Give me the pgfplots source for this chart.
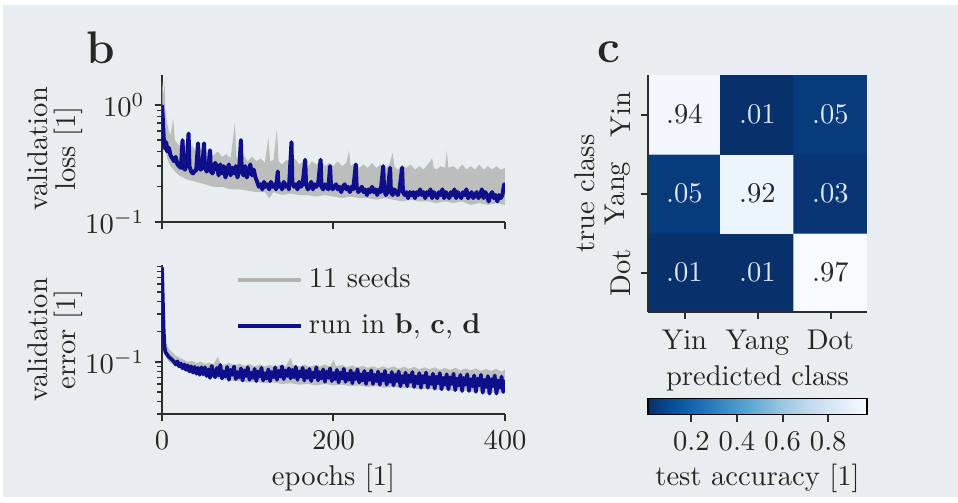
\documentclass[border=0pt]{standalone}
\usepackage{pgfplots}
\pgfplotsset{compat=1.18}
\definecolor{bgc}{RGB}{232,238,240}
\definecolor{runblue}{RGB}{15,15,140}
\definecolor{seedgray}{RGB}{178,178,178}
\definecolor{axc}{RGB}{45,45,45}
\definecolor{lighttxt}{RGB}{222,230,244}
\pgfplotsset{
 panel/.style={scale only axis, axis x line*=bottom, axis y line*=left, tick align=outside,
   axis line style={axc, line width=0.7pt}, major tick length=2.6pt, minor tick length=1.6pt,
   every tick/.style={axc, line width=0.7pt}, every minor tick/.style={axc, line width=0.5pt},
   tick label style={text=black!85}, label style={text=black!85}},
}
\begin{document}
\begin{tikzpicture}
\fill[white] (0pt,0pt) rectangle (335.3pt,-173.95pt);
\fill[bgc] (1.05pt,-1.75pt) rectangle (335.3pt,-173.95pt);
\node[anchor=base west, font=\fontsize{16}{19}\selectfont\bfseries, text=black!85, inner sep=0pt] at (30.1pt,-22.05pt) {b};
\node[anchor=base west, font=\fontsize{16}{19}\selectfont\bfseries, text=black!85, inner sep=0pt] at (208.95pt,-21.7pt) {c};

% ---------- validation loss ----------
\begin{axis}[panel, at={(56.7pt,-77.7pt)}, anchor=south west, width=120.05pt, height=51.45pt,
  xmin=0, xmax=400, ymode=log, ymin=0.1, ymax=1.8,
  xtick={0,200,400}, xticklabels={},
  ytick={0.1,1}, minor ytick={0.2,0.3,0.4,0.5,0.6,0.7,0.8,0.9},
  ylabel={validation\\[-2.2pt]loss [1]},
  ylabel style={at={(axis description cs:-0.312,0.5)}, anchor=center, align=center}]
\addplot[draw=none, fill=seedgray, fill opacity=0.8, forget plot] coordinates {
(0,1.6) (2,1.2) (3,1.6) (4,0.9) (6,0.7) (8,0.6) (10,0.55) (13,0.77) (15,0.5) (20,0.45) (25,0.5) (30,0.42) (35,0.45) (40,0.40) (45,0.43) (50,0.38) (55,0.41) (60,0.37) (65,0.40) (70,0.36) (75,0.38) (80,0.35) (85,0.71) (87,0.36) (90,0.34) (95,0.37) (100,0.33) (105,0.36) (110,0.33) (115,0.35) (120,0.32) (124,0.53) (126,0.33) (130,0.34) (134,0.63) (136,0.33) (140,0.31) (145,0.34) (150,0.32) (155,0.35) (160,0.31) (165,0.33) (170,0.30) (175,0.33) (180,0.31) (185,0.34) (190,0.30) (195,0.32) (200,0.30) (205,0.33) (210,0.30) (215,0.32) (218,0.41) (220,0.30) (225,0.32) (230,0.29) (235,0.31) (240,0.29) (245,0.32) (250,0.29) (255,0.31) (260,0.28) (265,0.31) (269,0.39) (271,0.30) (275,0.28) (280,0.31) (285,0.29) (290,0.31) (295,0.28) (300,0.30) (305,0.28) (310,0.31) (315,0.35) (317,0.29) (320,0.28) (325,0.30) (330,0.29) (332,0.41) (334,0.29) (340,0.30) (345,0.28) (350,0.31) (355,0.28) (360,0.30) (365,0.28) (370,0.31) (375,0.28) (380,0.30) (385,0.28) (390,0.30) (395,0.28) (400,0.29)
(400,0.14) (390,0.145) (380,0.14) (370,0.145) (360,0.14) (350,0.15) (340,0.145) (330,0.15) (320,0.145) (310,0.15) (300,0.15) (290,0.155) (280,0.15) (270,0.155) (260,0.16) (250,0.155) (240,0.16) (230,0.16) (220,0.165) (210,0.16) (200,0.165) (190,0.17) (180,0.165) (170,0.17) (160,0.17) (150,0.175) (140,0.17) (130,0.18) (125,0.16) (120,0.18) (110,0.18) (100,0.185) (90,0.19) (80,0.19) (70,0.2) (60,0.2) (50,0.21) (40,0.22) (30,0.23) (20,0.25) (15,0.27) (10,0.3) (6,0.35) (3,0.45) (1,0.6) (0,0.8)
};
\addplot[runblue, line width=1.4pt, line join=round] coordinates {
(0,1.00) (1,0.75) (2,0.52) (3,0.45) (4,0.42) (5,0.48) (6,0.40) (8,0.43) (10,0.37) (12,0.35) (14,0.33) (16,0.36) (18,0.31) (20,0.30) (22,0.29) (24,0.50) (25,0.29) (27,0.28) (29,0.33) (31,0.57) (32,0.30) (34,0.27) (36,0.26) (38,0.27) (40,0.28) (42,0.47) (43,0.30) (45,0.28) (47,0.29) (49,0.47) (50,0.30) (52,0.27) (54,0.28) (56,0.41) (57,0.27) (59,0.26) (62,0.32) (64,0.30) (66,0.25) (68,0.31) (70,0.26) (72,0.30) (74,0.24) (76,0.28) (78,0.31) (80,0.25) (82,0.29) (84,0.26) (86,0.30) (88,0.24) (90,0.28) (92,0.50) (93,0.27) (95,0.25) (97,0.30) (99,0.24) (101,0.27) (103,0.31) (105,0.25) (107,0.28) (109,0.24) (111,0.22) (113,0.20) (115,0.21) (117,0.19) (119,0.22) (121,0.20) (123,0.21) (125,0.19) (127,0.22) (129,0.20) (131,0.21) (133,0.19) (135,0.27) (136,0.20) (138,0.21) (140,0.19) (142,0.22) (144,0.20) (146,0.21) (148,0.19) (151,0.48) (152,0.22) (154,0.20) (156,0.21) (158,0.19) (160,0.22) (162,0.20) (164,0.21) (167,0.34) (168,0.21) (170,0.19) (172,0.20) (174,0.22) (176,0.19) (178,0.21) (180,0.20) (182,0.21) (185,0.34) (186,0.20) (188,0.19) (190,0.21) (192,0.20) (194,0.19) (196,0.30) (197,0.21) (199,0.19) (201,0.20) (203,0.21) (205,0.19) (207,0.20) (209,0.18) (211,0.20) (213,0.21) (215,0.19) (217,0.20) (219,0.18) (221,0.20) (223,0.19) (226,0.31) (227,0.20) (229,0.18) (231,0.19) (233,0.20) (235,0.18) (237,0.19) (239,0.17) (241,0.19) (243,0.18) (245,0.20) (247,0.18) (249,0.19) (251,0.17) (253,0.19) (255,0.18) (258,0.30) (259,0.19) (261,0.17) (263,0.18) (266,0.29) (267,0.18) (269,0.17) (271,0.19) (273,0.18) (275,0.17) (277,0.19) (280,0.29) (281,0.18) (283,0.17) (285,0.18) (287,0.16) (289,0.18) (291,0.17) (293,0.18) (295,0.16) (297,0.18) (299,0.17) (301,0.19) (303,0.17) (305,0.18) (307,0.16) (309,0.18) (311,0.17) (313,0.19) (315,0.16) (317,0.18) (319,0.17) (321,0.16) (323,0.18) (325,0.17) (327,0.19) (329,0.16) (331,0.18) (333,0.17) (335,0.16) (337,0.18) (339,0.17) (341,0.19) (343,0.16) (345,0.18) (347,0.17) (349,0.16) (351,0.18) (353,0.17) (355,0.19) (357,0.16) (359,0.17) (361,0.18) (363,0.16) (365,0.17) (367,0.18) (369,0.16) (371,0.17) (373,0.19) (375,0.16) (377,0.18) (379,0.17) (381,0.15) (383,0.17) (385,0.18) (387,0.16) (389,0.17) (391,0.15) (393,0.17) (395,0.16) (397,0.17) (399,0.21) (400,0.18)
};
\end{axis}

% ---------- validation error ----------
\begin{axis}[panel, at={(56.7pt,-144.9pt)}, anchor=south west, width=120.05pt, height=52.15pt,
  xmin=0, xmax=400, ymode=log, ymin=0.03, ymax=0.93,
  xtick={0,200,400}, xlabel={epochs [1]}, xlabel style={yshift=2pt},
  ytick={0.1}, minor ytick={0.03,0.04,0.05,0.06,0.07,0.08,0.09,0.2,0.3,0.4,0.5,0.6,0.7,0.8,0.9},
  ylabel={validation\\[-2.2pt]error [1]},
  ylabel style={at={(axis description cs:-0.312,0.5)}, anchor=center, align=center},
  legend style={draw=none, fill=none, at={(axis description cs:0.19,1.06)}, anchor=north west,
    row sep=3.5pt, text=black!85, nodes={inner sep=2pt}},
  legend cell align=left,
  legend image code/.code={\draw[#1] (0pt,0pt) -- (22pt,0pt);}]
\addlegendimage{seedgray, line width=1.4pt}
\addlegendentry{11 seeds}
\addplot[draw=none, fill=seedgray, fill opacity=0.8, forget plot] coordinates {
(0,0.9) (1,0.5) (2,0.25) (3,0.18) (5,0.15) (8,0.135) (12,0.125) (16,0.115) (20,0.11) (25,0.105) (30,0.10) (35,0.102) (40,0.097) (45,0.1) (50,0.095) (55,0.098) (60,0.094) (65,0.112) (68,0.095) (72,0.093) (78,0.098) (84,0.092) (90,0.096) (96,0.091) (102,0.095) (108,0.09) (114,0.094) (120,0.09) (126,0.093) (132,0.089) (138,0.093) (144,0.09) (150,0.11) (153,0.092) (160,0.09) (166,0.094) (172,0.089) (178,0.093) (184,0.09) (190,0.094) (196,0.089) (200,0.105) (203,0.09) (210,0.093) (216,0.088) (222,0.092) (228,0.087) (234,0.091) (240,0.087) (246,0.09) (252,0.086) (258,0.09) (264,0.086) (270,0.09) (276,0.085) (282,0.089) (288,0.085) (294,0.089) (300,0.084) (306,0.088) (312,0.084) (318,0.088) (324,0.083) (330,0.087) (336,0.083) (342,0.087) (348,0.082) (354,0.086) (360,0.082) (366,0.086) (372,0.081) (378,0.085) (384,0.081) (390,0.085) (396,0.08) (400,0.084)
(400,0.047) (390,0.05) (380,0.048) (370,0.051) (360,0.05) (350,0.052) (340,0.051) (330,0.053) (320,0.052) (310,0.054) (300,0.053) (290,0.055) (280,0.054) (270,0.056) (260,0.055) (250,0.057) (240,0.056) (230,0.058) (220,0.057) (210,0.059) (200,0.058) (190,0.06) (180,0.058) (170,0.06) (160,0.059) (150,0.061) (140,0.06) (130,0.062) (120,0.061) (110,0.063) (100,0.062) (90,0.064) (80,0.065) (70,0.067) (60,0.069) (50,0.072) (40,0.075) (30,0.08) (20,0.087) (12,0.095) (8,0.1) (5,0.11) (3,0.12) (2,0.15) (1,0.3) (0,0.85)
};
\addplot[runblue, line width=1.3pt, line join=round] coordinates {
(0,0.88) (1,0.40) (2,0.20) (3,0.14) (4,0.125) (6,0.118) (8,0.112) (10,0.108) (12,0.104) (14,0.100) (16,0.094) (18,0.101) (20,0.090) (22,0.096) (24,0.086) (26,0.094) (28,0.083) (30,0.092) (32,0.080) (34,0.090) (36,0.078) (38,0.089) (40,0.076) (42,0.087) (44,0.074) (46,0.088) (48,0.075) (50,0.088) (52,0.072) (54,0.084) (56,0.069) (58,0.091) (60,0.076) (62,0.070) (64,0.087) (66,0.073) (68,0.093) (70,0.068) (72,0.080) (74,0.071) (76,0.089) (78,0.066) (80,0.083) (82,0.074) (84,0.090) (86,0.067) (88,0.079) (90,0.070) (92,0.086) (94,0.065) (96,0.082) (98,0.072) (100,0.088) (102,0.066) (104,0.078) (106,0.069) (108,0.085) (110,0.064) (112,0.080) (114,0.071) (116,0.087) (118,0.065) (120,0.077) (122,0.068) (124,0.084) (126,0.064) (128,0.079) (130,0.070) (132,0.088) (134,0.066) (136,0.081) (138,0.071) (140,0.090) (142,0.067) (144,0.082) (146,0.072) (148,0.086) (150,0.068) (152,0.083) (154,0.070) (156,0.089) (158,0.066) (160,0.080) (162,0.071) (164,0.087) (166,0.065) (168,0.081) (170,0.069) (172,0.085) (174,0.064) (176,0.078) (178,0.070) (180,0.088) (182,0.065) (184,0.079) (186,0.068) (188,0.084) (190,0.063) (192,0.080) (194,0.069) (196,0.086) (198,0.064) (200,0.077) (202,0.067) (204,0.083) (206,0.062) (208,0.078) (210,0.068) (212,0.085) (214,0.063) (216,0.076) (218,0.066) (220,0.082) (222,0.061) (224,0.077) (226,0.067) (228,0.084) (230,0.062) (232,0.075) (234,0.065) (236,0.081) (238,0.060) (240,0.076) (242,0.066) (244,0.082) (246,0.060) (248,0.074) (250,0.064) (252,0.080) (254,0.059) (256,0.075) (258,0.065) (260,0.081) (262,0.059) (264,0.073) (266,0.063) (268,0.079) (270,0.058) (272,0.074) (274,0.064) (276,0.080) (278,0.057) (280,0.072) (282,0.062) (284,0.078) (286,0.057) (288,0.073) (290,0.063) (292,0.079) (294,0.056) (296,0.071) (298,0.061) (300,0.077) (302,0.055) (304,0.072) (306,0.062) (308,0.078) (310,0.055) (312,0.070) (314,0.060) (316,0.076) (318,0.054) (320,0.071) (322,0.061) (324,0.077) (326,0.053) (328,0.069) (330,0.059) (332,0.075) (334,0.053) (336,0.070) (338,0.060) (340,0.076) (342,0.052) (344,0.068) (346,0.058) (348,0.074) (350,0.051) (352,0.069) (354,0.059) (356,0.075) (358,0.051) (360,0.067) (362,0.057) (364,0.073) (366,0.050) (368,0.068) (370,0.058) (372,0.074) (374,0.049) (376,0.066) (378,0.056) (380,0.072) (382,0.048) (384,0.067) (386,0.057) (388,0.073) (390,0.048) (392,0.065) (394,0.055) (396,0.071) (398,0.050) (400,0.066)
};
\addlegendentry{run in \textbf{b}, \textbf{c}, \textbf{d}}
\end{axis}

% ---------- confusion matrix ----------
\begin{axis}[panel, at={(226.8pt,-109.2pt)}, anchor=south west, width=76.65pt, height=82.95pt,
  axis on top,
  xmin=-0.5, xmax=2.5, ymin=-0.5, ymax=2.5,
  xtick={0,1,2}, xticklabels={Yin,Yang,Dot},
  ytick={0,1,2}, yticklabels={Dot,Yang,Yin},
  yticklabel style={rotate=90, anchor=south},
  xlabel={predicted class}, ylabel={true class},
  xlabel style={yshift=3pt},
  ylabel style={at={(axis description cs:-0.29,0.5)}, anchor=center},
  colormap={bluesr}{rgb255=(8,48,107) rgb255=(8,81,156) rgb255=(33,113,181) rgb255=(66,146,198) rgb255=(107,174,214) rgb255=(158,202,225) rgb255=(198,219,239) rgb255=(222,235,247) rgb255=(247,251,255)},
  point meta min=0.01, point meta max=0.97,
  colorbar horizontal,
  colorbar style={at={(parent axis.south west)}, anchor=north west, yshift=-21.7pt,
    scale only axis, width=76.65pt, height=5.6pt,
    xtick={0.2,0.4,0.6,0.8}, xtick pos=left, xticklabel pos=left, tick align=outside,
    major tick length=2.6pt, every tick/.style={axc, line width=0.7pt},
    axis line style={black, line width=0.6pt},
    xticklabel style={/pgf/number format/fixed, /pgf/number format/precision=1, /pgf/number format/fixed zerofill, text=black!85},
    xlabel={test accuracy [1]}, xlabel style={text=black!85, yshift=2pt}}]
\addplot[matrix plot*, mesh/cols=3, point meta=explicit] table[meta=c] {
x y c
0 0 0.01
1 0 0.01
2 0 0.97
0 1 0.05
1 1 0.92
2 1 0.03
0 2 0.94
1 2 0.01
2 2 0.05
};
\addplot[only marks, mark=none, nodes near coords, point meta=explicit symbolic,
  nodes near coords style={anchor=center, text=black!85}] table[meta=t] {
x y t
2 0 .97
1 1 .92
0 2 .94
};
\addplot[only marks, mark=none, nodes near coords, point meta=explicit symbolic,
  nodes near coords style={anchor=center, text=lighttxt}] table[meta=t] {
x y t
0 0 .01
1 0 .01
0 1 .05
2 1 .03
1 2 .01
2 2 .05
};
\end{axis}
\end{tikzpicture}
\end{document}
